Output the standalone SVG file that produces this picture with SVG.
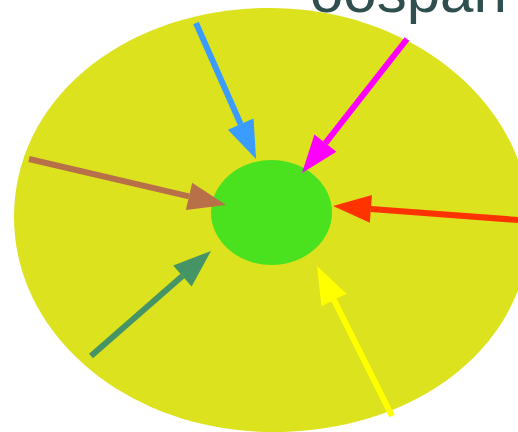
<svg xmlns="http://www.w3.org/2000/svg" width="518" height="432" viewBox="0 0 518 432">
  <style>
    .arrow { fill: none; stroke-width: 6; stroke-linecap: butt; }
    .title { font-family: "Liberation Sans", Arial, sans-serif; font-size: 60px; fill: #2f4f4f; }
  </style>
  <defs>
    <marker id="mBlue" markerUnits="userSpaceOnUse" markerWidth="40" markerHeight="30" viewBox="0 -15 40 30" refX="0" refY="0" orient="auto" overflow="visible"><path d="M0,-14 L38,0 L0,14 Z" fill="#3b9cff"/></marker>
    <marker id="mMagenta" markerUnits="userSpaceOnUse" markerWidth="40" markerHeight="30" viewBox="0 -15 40 30" refX="0" refY="0" orient="auto" overflow="visible"><path d="M0,-14 L38,0 L0,14 Z" fill="#ff00ff"/></marker>
    <marker id="mBrown" markerUnits="userSpaceOnUse" markerWidth="40" markerHeight="30" viewBox="0 -15 40 30" refX="0" refY="0" orient="auto" overflow="visible"><path d="M0,-14 L38,0 L0,14 Z" fill="#b87048"/></marker>
    <marker id="mRed" markerUnits="userSpaceOnUse" markerWidth="40" markerHeight="30" viewBox="0 -15 40 30" refX="0" refY="0" orient="auto" overflow="visible"><path d="M0,-14 L38,0 L0,14 Z" fill="#ff3300"/></marker>
    <marker id="mGreen" markerUnits="userSpaceOnUse" markerWidth="40" markerHeight="30" viewBox="0 -15 40 30" refX="0" refY="0" orient="auto" overflow="visible"><path d="M0,-14 L38,0 L0,14 Z" fill="#449466"/></marker>
    <marker id="mYellow" markerUnits="userSpaceOnUse" markerWidth="40" markerHeight="30" viewBox="0 -15 40 30" refX="0" refY="0" orient="auto" overflow="visible"><path d="M0,-14 L38,0 L0,14 Z" fill="#ffff00"/></marker>
  </defs>
  <rect width="518" height="432" fill="#ffffff"/>
  <text class="title" x="310" y="11.5">oospan</text>
  <g id="outer">
    <path d="M270,8 C413,8 530,105 530,225 C530,345 417,432 273,432 C130,432 14,337 14,217 C14,97 127,8 270,8 Z" fill="#dde21f"/>
  </g>
  <g id="inner">
    <ellipse cx="271.5" cy="212.5" rx="60.5" ry="52.5" fill="#4ae11f"/>
  </g>
  <g id="connectors">
    <line class="arrow" x1="196" y1="23" x2="240.7" y2="124.2" stroke="#3b9cff" marker-end="url(#mBlue)"/>
    <line class="arrow" x1="407" y1="39" x2="325.4" y2="143.1" stroke="#ff00ff" marker-end="url(#mMagenta)"/>
    <line class="arrow" x1="29" y1="159" x2="189" y2="196.4" stroke="#b87048" marker-end="url(#mBrown)"/>
    <line class="arrow" x1="525" y1="220.5" x2="370.9" y2="208.9" stroke="#ff3300" marker-end="url(#mRed)"/>
    <line class="arrow" x1="91" y1="356" x2="182.4" y2="276" stroke="#449466" marker-end="url(#mGreen)"/>
    <line class="arrow" x1="392" y1="416" x2="334" y2="300" stroke="#ffff00" marker-end="url(#mYellow)"/>
  </g>
</svg>
